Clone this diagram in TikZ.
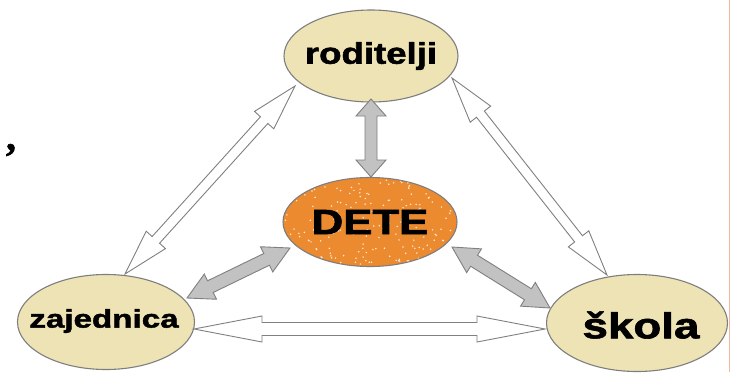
\documentclass[tikz,border=0pt]{standalone}
\usepackage{fontspec}
\setmainfont{Liberation Sans}
\newfontfamily\labfont[BoldFeatures={FakeBold=1.6}]{Liberation Sans}
\newfontfamily\commafont[BoldFeatures={FakeBold=1.5}]{Liberation Serif}
\usetikzlibrary{shapes.geometric,calc}
\definecolor{beige}{HTML}{EEE3B4}
\definecolor{orng}{HTML}{EC8A30}
\definecolor{rimgray}{HTML}{7E7E7E}
\definecolor{arrgray}{HTML}{C2C2C2}
\definecolor{arredge}{HTML}{808080}
\definecolor{pinkline}{HTML}{F4B8A0}
\newcommand{\dblarr}[6]{%
 \draw[#1] (#2) -- ($(#2)!#6!(#3)!#5!90:(#3)$) -- ($(#2)!#6!(#3)!#4!90:(#3)$)
   -- ($(#3)!#6!(#2)!#4!-90:(#2)$) -- ($(#3)!#6!(#2)!#5!-90:(#2)$) -- (#3)
   -- ($(#3)!#6!(#2)!#5!90:(#2)$) -- ($(#3)!#6!(#2)!#4!90:(#2)$)
   -- ($(#2)!#6!(#3)!#4!-90:(#3)$) -- ($(#2)!#6!(#3)!#5!-90:(#3)$) -- cycle;}
\newcommand{\lab}[3]{\labfont\fontsize{#1}{#1}\selectfont\bfseries\scalebox{#2}[1]{#3}}
\tikzset{
  bub/.style={ellipse, draw=rimgray, line width=1.1pt, fill=beige, inner sep=0pt, text=black},
  graya/.style={fill=arrgray, draw=arredge, line width=0.9pt, line join=miter},
  whitea/.style={fill=white, draw=arredge, line width=0.9pt, line join=miter}
}
\begin{document}
\begin{tikzpicture}[x=1pt,y=-1pt]
\useasboundingbox (0,0) rectangle (730,372);
\fill[white] (0,0) rectangle (730,372);
\draw[pinkline, line width=1pt] (729.3,0) -- (729.3,372);
% nodes
\node[bub, minimum width=174pt, minimum height=92pt] (rod) at (371,56) {};
\node[bub, fill=orng, minimum width=174pt, minimum height=89pt] (dete) at (370,222) {};
\node[bub, minimum width=177pt, minimum height=95pt] (zaj) at (106,322) {};
\node[bub, minimum width=181pt, minimum height=97pt] (sko) at (637,323) {};
% speckles in DETE
\begin{scope}
\clip (dete.center) ellipse [x radius=86pt, y radius=44pt];
\pgfmathsetseed{7}
\foreach \i in {1,...,170}{
  \pgfmathsetmacro{\ang}{360*rnd}
  \pgfmathsetmacro{\rr}{sqrt(rnd)}
  \fill[white!80!orng] ($(dete.center)+({86*\rr*cos(\ang)},{44*\rr*sin(\ang)})$) circle (0.85pt);
}
\end{scope}
% labels
\node at (rod.center) {\lab{30}{1.22}{roditelji}};
\node at (dete.center) {\lab{35}{1.25}{DETE}};
\node at ($(zaj.center)+(-2,-1)$) {\lab{25.5}{1.3}{zajednica}};
\node at ($(sko.center)+(4,2)$) {\lab{36}{1.27}{škola}};
\node[inner sep=0pt] (comma) at (11,150) {\commafont\fontsize{40}{40}\selectfont\bfseries ,};
% arrow end points
\coordinate (r1) at (371,99);
\coordinate (d1) at (371,177);
\coordinate (z1) at (187,298);
\coordinate (d2) at (290,248);
\coordinate (d3) at (452,247);
\coordinate (s1) at (550,308);
\coordinate (r2) at (295,86);
\coordinate (z2) at (125,274);
\coordinate (r3) at (452,78);
\coordinate (s2) at (607,275);
\coordinate (z3) at (194,329);
\coordinate (s3) at (545,329);
% arrows
\dblarr{graya}{r1}{d1}{6pt}{15pt}{17pt}
\dblarr{graya}{z1}{d2}{6.5pt}{14pt}{26pt}
\dblarr{graya}{d3}{s1}{6.5pt}{14pt}{26pt}
\dblarr{whitea}{r2}{z2}{5pt}{13pt}{46pt}
\dblarr{whitea}{r3}{s2}{5pt}{13pt}{46pt}
\dblarr{whitea}{z3}{s3}{6.5pt}{13pt}{68pt}
\end{tikzpicture}
\end{document}
